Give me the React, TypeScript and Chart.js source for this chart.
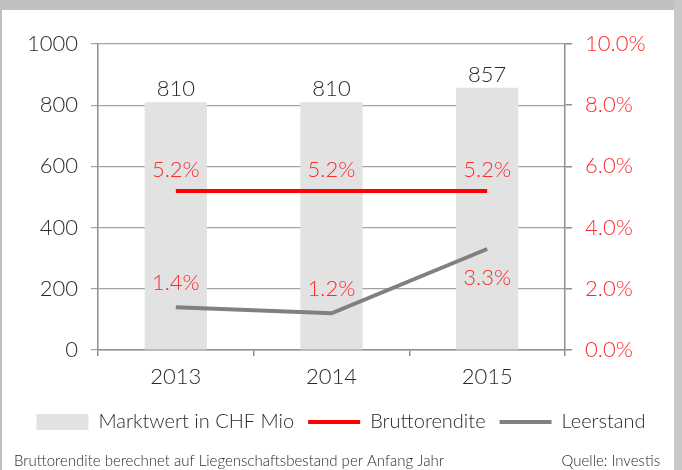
import React, { useEffect, useRef } from 'react';
import { Chart, registerables } from 'chart.js';

Chart.register(...registerables);

const categories = ['2013', '2014', '2015'];
const marktwert = [810, 810, 857];
const bruttorendite = [5.2, 5.2, 5.2];
const leerstand = [1.4, 1.2, 3.3];
const leftTicks = [0, 200, 400, 600, 800, 1000];
const rightTicks = [0, 2, 4, 6, 8, 10];
const leerstandLabelSide = ['above', 'above', 'below'];
const seriesNames = ['Marktwert in CHF Mio', 'Bruttorendite', 'Leerstand'];
const footerLeft = 'Bruttorendite berechnet auf Liegenschaftsbestand per Anfang Jahr';
const footerRight = 'Quelle: Investis';

const FONT = 'Lato';
const WEIGHT = '300';
const TEXT = '#2a2a2a';
const RED = '#ff2a2a';
const AXIS = '#8f8f8f';

const pct = (v: number) => v.toFixed(1) + '%';

const framePlugin = {
  id: 'frame',
  beforeDraw(chart: any) {
    const { ctx, width, height } = chart;
    ctx.save();
    ctx.fillStyle = '#ffffff';
    ctx.fillRect(0, 0, width, height);
    ctx.fillStyle = '#c0c0c0';
    ctx.fillRect(0, 0, width, 10);
    ctx.fillRect(0, 0, 2, height);
    ctx.fillStyle = '#c8c8c8';
    ctx.fillRect(674, 0, width - 674, height);
    ctx.restore();
  },
  afterDraw(chart: any) {
    const { ctx } = chart;
    ctx.save();
    ctx.font = `${WEIGHT} 15px ${FONT}`;
    ctx.fillStyle = TEXT;
    ctx.textBaseline = 'middle';
    ctx.textAlign = 'left';
    ctx.fillText(footerLeft, 14, 461);
    ctx.textAlign = 'right';
    ctx.fillText(footerRight, 660, 461);
    ctx.restore();
  },
};

const labelPlugin = {
  id: 'valueLabels',
  afterDatasetsDraw(chart: any) {
    const { ctx } = chart;
    ctx.save();
    ctx.font = `${WEIGHT} 22px ${FONT}`;
    ctx.textAlign = 'center';
    ctx.textBaseline = 'middle';
    chart.getDatasetMeta(0).data.forEach((el: any, i: number) => {
      ctx.fillStyle = TEXT;
      ctx.fillText(String(marktwert[i]), el.x, el.y - 13);
    });
    chart.getDatasetMeta(1).data.forEach((el: any, i: number) => {
      ctx.fillStyle = RED;
      ctx.fillText(pct(bruttorendite[i]), el.x, el.y - 21);
    });
    chart.getDatasetMeta(2).data.forEach((el: any, i: number) => {
      ctx.fillStyle = RED;
      const dy = leerstandLabelSide[i] === 'below' ? 29 : -24;
      ctx.fillText(pct(leerstand[i]), el.x, el.y + dy);
    });
    ctx.restore();
  },
};

export default function App() {
  const ref = useRef<HTMLCanvasElement | null>(null);

  useEffect(() => {
    if (!ref.current) return;
    const tickFont = { family: FONT, size: 22, weight: WEIGHT as any };
    const chart = new Chart(ref.current, {
      type: 'bar',
      data: {
        labels: categories,
        datasets: [
          {
            type: 'bar',
            label: seriesNames[0],
            data: marktwert,
            backgroundColor: '#e2e2e2',
            borderWidth: 0,
            yAxisID: 'y',
            order: 3,
            categoryPercentage: 1,
            barPercentage: 0.4,
          } as any,
          {
            type: 'line',
            label: seriesNames[1],
            data: bruttorendite,
            borderColor: '#ff0000',
            backgroundColor: '#ff0000',
            borderWidth: 4,
            pointRadius: 0,
            yAxisID: 'y1',
            order: 1,
          },
          {
            type: 'line',
            label: seriesNames[2],
            data: leerstand,
            borderColor: '#808080',
            backgroundColor: '#808080',
            borderWidth: 4,
            pointRadius: 0,
            yAxisID: 'y1',
            order: 2,
          },
        ],
      },
      options: {
        animation: false,
        responsive: false,
        maintainAspectRatio: false,
        layout: { padding: { top: 44, left: 0, right: 0, bottom: 28 } },
        plugins: {
          tooltip: { enabled: false },
          legend: {
            position: 'bottom',
            labels: {
              usePointStyle: true,
              pointStyleWidth: 52,
              boxHeight: 16,
              padding: 14,
              color: TEXT,
              font: { family: FONT, size: 20, weight: WEIGHT as any },
              generateLabels(chart: any) {
                const items = Chart.defaults.plugins.legend.labels.generateLabels(chart);
                return items
                  .slice()
                  .sort((a: any, b: any) => a.datasetIndex - b.datasetIndex)
                  .map((it: any) => ({
                    ...it,
                    pointStyle: it.datasetIndex === 0 ? 'rect' : 'line',
                    lineWidth: it.datasetIndex === 0 ? 0 : 4,
                  }));
              },
            },
          },
        },
        scales: {
          x: {
            offset: true,
            grid: { offset: true, drawOnChartArea: false, tickLength: 6, color: AXIS, lineWidth: 1.5 },
            border: { color: AXIS, width: 1.5 },
            ticks: { color: TEXT, padding: 8, font: tickFont },
            afterFit(scale: any) { scale.height = 48; },
          },
          y: {
            position: 'left',
            min: 0,
            max: 1000,
            afterBuildTicks(scale: any) { scale.ticks = leftTicks.map((v) => ({ value: v })); },
            ticks: { color: TEXT, padding: 13, callback: (v: any) => String(v), font: tickFont },
            grid: { color: '#a3a3a3', lineWidth: 1.2, tickLength: 7 },
            border: { color: AXIS, width: 1.5 },
            afterFit(scale: any) { scale.width = 98; },
          },
          y1: {
            position: 'right',
            min: 0,
            max: 10,
            afterBuildTicks(scale: any) { scale.ticks = rightTicks.map((v) => ({ value: v })); },
            ticks: { color: RED, padding: 13, callback: (v: any) => pct(Number(v)), font: tickFont },
            grid: { drawOnChartArea: false, color: AXIS, lineWidth: 1.5, tickLength: 7 },
            border: { color: AXIS, width: 1.5 },
            afterFit(scale: any) { scale.width = 682 - 565; },
          },
        },
      },
      plugins: [framePlugin, labelPlugin],
    });
    return () => chart.destroy();
  }, []);

  return (
    <div style={{ position: 'absolute', left: 0, top: 0, width: 682, height: 470 }}>
      <canvas ref={ref} width={682} height={470} style={{ display: 'block' }} />
    </div>
  );
}
